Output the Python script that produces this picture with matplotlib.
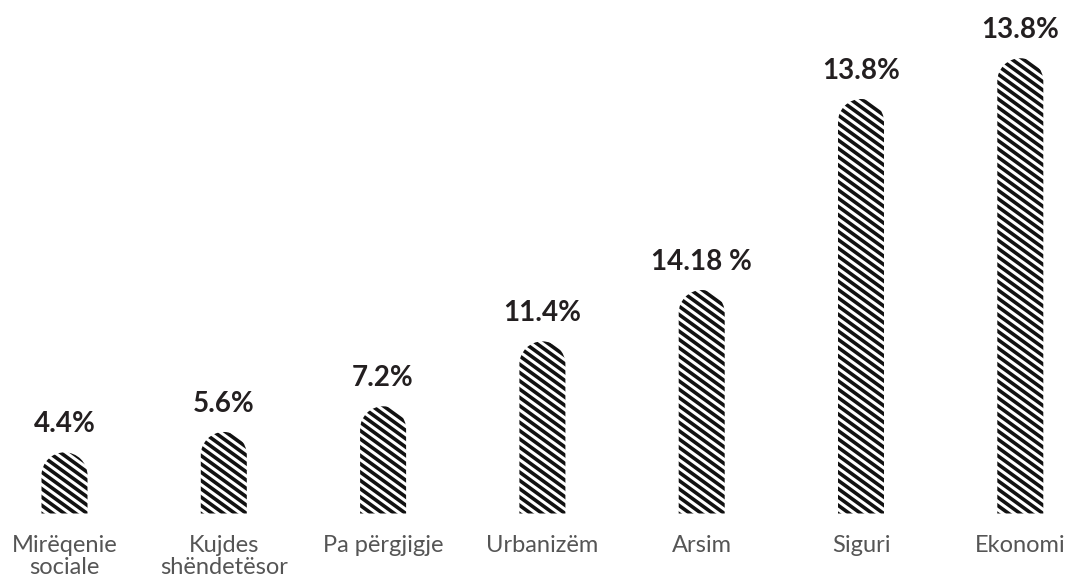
import numpy as np
import matplotlib
matplotlib.use("Agg")
import matplotlib.pyplot as plt
from matplotlib.path import Path
from matplotlib.patches import PathPatch
from matplotlib.collections import LineCollection
from matplotlib.transforms import Affine2D

# data (bar heights in % units, labels as printed)
categories = ["Mirëqenie\nsociale", "Kujdes\nshëndetësor", "Pa përgjigje",
              "Urbanizëm", "Arsim", "Siguri", "Ekonomi"]
heights = [4.05, 5.4, 7.1, 11.4, 14.8, 27.45, 30.15]
value_labels = ["4.4%", "5.6%", "7.2%", "11.4%", "14.18 %", "13.8%", "13.8%"]

W, H = 1066, 581
fig = plt.figure(figsize=(W / 100, H / 100), dpi=100)
ax = fig.add_axes([0, 0, 1, 1])
ax.axis("off")

# pixel scale of the axes
sx = 159.3   # px per category
sy = 15.1    # px per % unit
x0_px, base_px = 64.5, 67.5
ax.set_xlim(-x0_px / sx, (W - x0_px) / sx)
ax.set_ylim(-base_px / sy, (H - base_px) / sy)

bar_w = 46 / sx
rx = bar_w / 2
ry = rx * sx / sy
arc = Path.arc(0, 180)

stripe_angle = np.deg2rad(36)
stripe_gap = 8.3 / sy          # vertical period in data units
slope = -np.tan(stripe_angle) * sx / sy

for i, (h, lab) in enumerate(zip(heights, value_labels)):
    xl, xr = i - rx, i + rx
    straight = h - ry
    top = Affine2D().scale(rx, ry).translate(i, straight).transform(arc.vertices)
    verts = [(xl, 0), (xr, 0)] + list(top) + [(xl, 0)]
    codes = [Path.MOVETO, Path.LINETO, Path.LINETO] + list(arc.codes[1:]) + [Path.LINETO]
    patch = PathPatch(Path(verts, codes), facecolor="white", edgecolor="none")
    ax.add_patch(patch)

    # diagonal stripes clipped to the bar shape
    drop = -slope * (xr - xl)
    offs = np.arange(-stripe_gap, h + drop + stripe_gap, stripe_gap)
    segs = [[(xl - rx, c - slope * rx), (xr + rx, c - drop + slope * rx)] for c in offs]
    lc = LineCollection(segs, colors="#111111", linewidths=2.6, capstyle="butt")
    ax.add_collection(lc)
    lc.set_clip_path(patch)

    ax.text(i, h + 20 / sy, lab, ha="center", va="baseline",
            fontsize=20, fontweight="bold", family="Lato", color="#231f20")
    ax.text(i, -22 / sy, categories[i], ha="center", va="top",
            fontsize=17, fontweight="normal", family="Lato", color="#555555",
            linespacing=1.05)

fig.savefig("out.png", dpi=100, facecolor="white")
